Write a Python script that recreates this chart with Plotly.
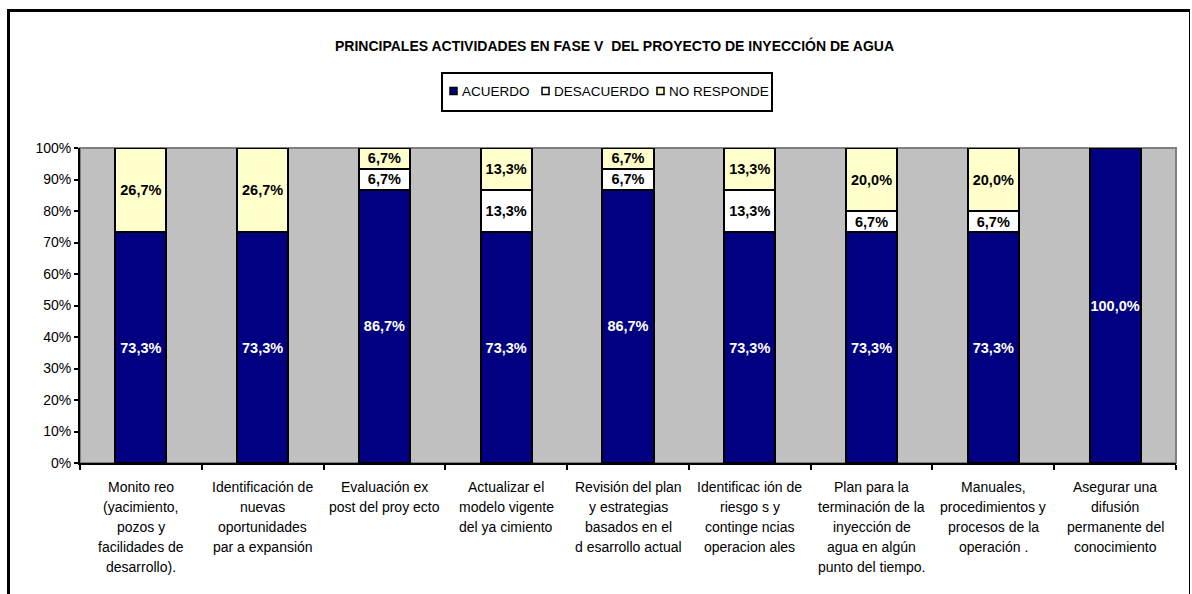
import plotly.graph_objects as go

# Survey responses per activity (percent of respondents)
categories = [
    ["Monito reo", "(yacimiento,", "pozos y", "facilidades de", "desarrollo)."],
    ["Identificación de", "nuevas", "oportunidades", "par a expansión"],
    ["Evaluación ex", "post del proy ecto"],
    ["Actualizar el", "modelo vigente", "del ya cimiento"],
    ["Revisión del plan", "y estrategias", "basados en el", "d esarrollo actual"],
    ["Identificac ión de", "riesgo s y", "continge ncias", "operacion ales"],
    ["Plan para la", "terminación de la", "inyección de", "agua en algún", "punto del tiempo."],
    ["Manuales,", "procedimientos y", "procesos de la", "operación ."],
    ["Asegurar una", "difusión", "permanente del", "conocimiento"],
]
acuerdo = [73.3, 73.3, 86.7, 73.3, 86.7, 73.3, 73.3, 73.3, 100.0]
desacuerdo = [0.0, 0.0, 6.7, 13.3, 6.7, 13.3, 6.7, 6.7, 0.0]
no_responde = [26.7, 26.7, 6.7, 13.3, 6.7, 13.3, 20.0, 20.0, 0.0]

series_names = ["ACUERDO", "DESACUERDO", "NO RESPONDE"]
series_values = [acuerdo, desacuerdo, no_responde]
series_colors = ["#000080", "#FFFFFF", "#FFFFCC"]
label_colors = ["#FFFFFF", "#000000", "#000000"]

title_text = "PRINCIPALES ACTIVIDADES EN FASE V  DEL PROYECTO DE INYECCIÓN DE AGUA"
FONT = "Liberation Sans, Arial, sans-serif"

# Canvas geometry (pixels)
W, H = 1192, 594
L, R, T, B = 80, 16, 148, 131
PW, PH = W - L - R, H - T - B


def fx(px):
    return (px - L) / PW


def fy(py):
    return (H - B - py) / PH


keys = [" ".join(c) for c in categories]


def pct_text(v):
    return f"{v:.1f}".replace(".", ",") + "%" if v > 0 else ""


fig = go.Figure()
for name, vals, col, tcol in zip(series_names, series_values, series_colors, label_colors):
    fig.add_trace(go.Bar(
        x=keys, y=vals, name=name,
        marker=dict(color=col, line=dict(color="#000000", width=2)),
        text=[pct_text(v) for v in vals],
        textposition="inside", insidetextanchor="middle",
        constraintext="none", textangle=0,
        textfont=dict(family=FONT, size=14.5, color=tcol, weight="bold"),
        hoverinfo="skip",
    ))

shapes = []
# plot-area border (grey, top and right)
shapes.append(dict(type="rect", xref="paper", yref="paper", x0=0, x1=1, y0=0, y1=1,
                   line=dict(color="#808080", width=2), layer="below"))
# outer chart frame
shapes.append(dict(type="line", xref="paper", yref="paper", x0=fx(8.5), x1=fx(8.5),
                   y0=fy(9.5), y1=fy(600), line=dict(color="#000000", width=3)))
shapes.append(dict(type="line", xref="paper", yref="paper", x0=fx(7), x1=fx(1190),
                   y0=fy(10.5), y1=fy(10.5), line=dict(color="#000000", width=3)))
shapes.append(dict(type="line", xref="paper", yref="paper", x0=fx(1189.5), x1=fx(1189.5),
                   y0=fy(10), y1=fy(600), line=dict(color="#000000", width=1)))

# legend box
shapes.append(dict(type="rect", xref="paper", yref="paper", x0=fx(442), x1=fx(772),
                   y0=fy(111), y1=fy(73), line=dict(color="#000000", width=2),
                   fillcolor="#FFFFFF"))
annotations = []
legend_x = [450, 542, 657]
for lx, name, col in zip(legend_x, series_names, series_colors):
    shapes.append(dict(type="rect", xref="paper", yref="paper", x0=fx(lx), x1=fx(lx + 7),
                       y0=fy(94.5), y1=fy(87.5), line=dict(color="#000000", width=1.5),
                       fillcolor=col))
    annotations.append(dict(xref="paper", yref="paper", x=fx(lx + 10), y=fy(91),
                            xanchor="left", yanchor="middle", showarrow=False, text=name,
                            font=dict(family=FONT, size=13.5, color="#000000")))

# title
annotations.append(dict(xref="paper", yref="paper", x=fx(614), y=fy(45), xanchor="center",
                        yanchor="middle", showarrow=False, text="<b>" + title_text + "</b>",
                        font=dict(family=FONT, size=14, color="#000000")))

# category labels, one line at a time
for key, lines in zip(keys, categories):
    for i, line in enumerate(lines):
        annotations.append(dict(xref="x", yref="paper", x=key, y=0, xanchor="center",
                                yanchor="middle", yshift=-(24 + 20 * i), showarrow=False,
                                text=line, font=dict(family=FONT, size=14, color="#000000")))

fig.update_layout(
    width=W, height=H,
    margin=dict(l=L, r=R, t=T, b=B, autoexpand=False),
    barmode="stack", bargap=0.58,
    paper_bgcolor="#FFFFFF", plot_bgcolor="#C0C0C0",
    showlegend=False, separators=",.",
    font=dict(family=FONT, size=14, color="#000000"),
    shapes=shapes, annotations=annotations,
)
fig.update_xaxes(
    type="category", showticklabels=False, showgrid=False, zeroline=False,
    showline=True, linecolor="#000000", linewidth=2,
    ticks="outside", tickson="boundaries", ticklen=5, tickwidth=2, tickcolor="#000000",
    automargin=False,
)
fig.update_yaxes(
    range=[0, 100], dtick=10, ticksuffix="%", showgrid=False, zeroline=False,
    showline=True, linecolor="#000000", linewidth=2,
    ticks="outside", ticklen=4, tickwidth=2, tickcolor="#000000",
    tickfont=dict(family=FONT, size=14, color="#000000"),
    automargin=False,
)

fig.write_html("out.html")
